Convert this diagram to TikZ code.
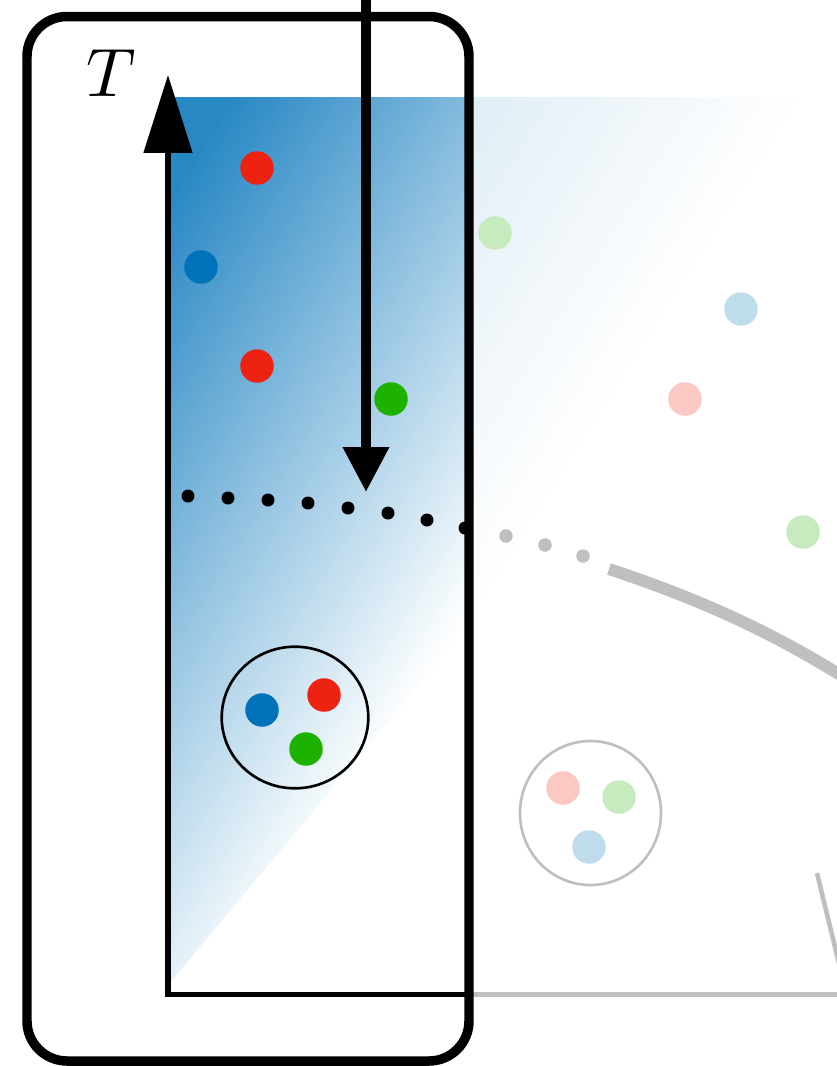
\documentclass[tikz,border=0pt]{standalone}
\usepackage{tikz}
\usetikzlibrary{arrows.meta}
\definecolor{dotred}{RGB}{238,34,17}
\definecolor{dotblue}{RGB}{0,114,185}
\definecolor{dotgreen}{RGB}{29,177,0}
\definecolor{shadeblue}{RGB}{40,136,196}
\tikzset{%
	particle/.style = {circle, inner sep=0pt, minimum size=0.67cm}, % coloured particle
	trackdot/.style = {circle, inner sep=0pt, minimum size=0.26cm, fill=black},
	faint/.style    = {black!25},
	axis/.style     = {line width=2.85pt},
}

\begin{document}
\begin{tikzpicture}[x=0.02cm,y=-0.02cm]
	\useasboundingbox (0,0) rectangle (837,1066);
	\clip (0,0) rectangle (837,1066);
	\coordinate (origin) at (168,994);
	\coordinate (ytip) at (168,75);
	\coordinate (xend) at (469,994);
	
	% shaded wedge: blue fading to white in thin strips, faded outside the box
	\begin{scope}
		\clip (168,97) -- (910,97) -- (168,985) -- cycle;
		\begin{scope}[shift={(168,97)}, rotate=-32.3]
			\fill[shadeblue] (-200,-1500) rectangle (55,1500);
			\foreach \i in {0,...,119} {
				\pgfmathsetmacro{\p}{100*(1-(\i+0.5)/120)}
				\fill[shadeblue!\p] ({54+\i*3.975},-1500) rectangle ({55+(\i+1)*3.975},1500);
			}
		\end{scope}
	\end{scope}
	\fill[white, fill opacity=0.75] (469,97) rectangle (837,994);
	
	% faded part
	\draw[faint, axis] (xend) -- (840,994);
	\draw[faint, line width=6.8pt] (609,569) .. controls (720,606) and (800,645) .. (900,714);
	\draw[faint, line width=2.6pt] (817,873) -- (843,980);
	\foreach \x/\y [count=\i] in {506/536, 545/545, 583/556}
		\node[trackdot, fill=black!25, minimum size=0.27cm] (g\i) at (\x,\y) {};
	\node[particle, fill=dotgreen!25] (fg1) at (495,233) {};
	\node[particle, fill=dotblue!25] (fb1) at (741,309) {};
	\node[particle, fill=dotred!25] (fr1) at (685,399) {};
	\node[particle, fill=dotgreen!25] (fg2) at (803,532) {};
	\draw[faint, line width=1.5pt] (590.5,813) ellipse (70.5 and 72);
	\node[particle, fill=dotred!25] (fr2) at (563,788) {};
	\node[particle, fill=dotgreen!25] (fg3) at (619,797) {};
	\node[particle, fill=dotblue!25] (fb2) at (589,847) {};
	
	% particles inside the box
	\node[particle, fill=dotred] (r1) at (257,168) {};
	\node[particle, fill=dotblue] (b1) at (201,267) {};
	\node[particle, fill=dotred] (r2) at (257,366) {};
	\node[particle, fill=dotgreen] (g1) at (391,399) {};
	\draw[line width=1.5pt] (295,717.5) ellipse (73.3 and 70.8);
	\node[particle, fill=dotblue] (b2) at (262,710) {};
	\node[particle, fill=dotred] (r3) at (324,695) {};
	\node[particle, fill=dotgreen] (g2) at (306,749) {};
	
	\foreach \x/\y [count=\i] in {188/496, 228/498, 268/500, 308/503, 348/508, 388/513, 427/520, 465/528}
		\node[trackdot] (d\i) at (\x,\y) {};
	
	% axes
	\draw[axis, {Triangle[length=1.56cm, width=0.96cm]}-] (ytip) -- (origin) -- (xend);
	\node[inner sep=0pt, scale=3.9] (tlabel) at (111,73) {$T$};
	
	% cut coming in from above
	\coordinate (cuttop) at (366,-20);
	\coordinate (cuttip) at (366,492);
	\draw[line width=5.7pt, -{Triangle[length=0.9cm, width=0.88cm]}] (cuttop) -- (cuttip);
	
	\draw[line width=5.4pt, rounded corners=0.8cm] (27,16.5) rectangle (469,1061);
\end{tikzpicture}
\end{document}
